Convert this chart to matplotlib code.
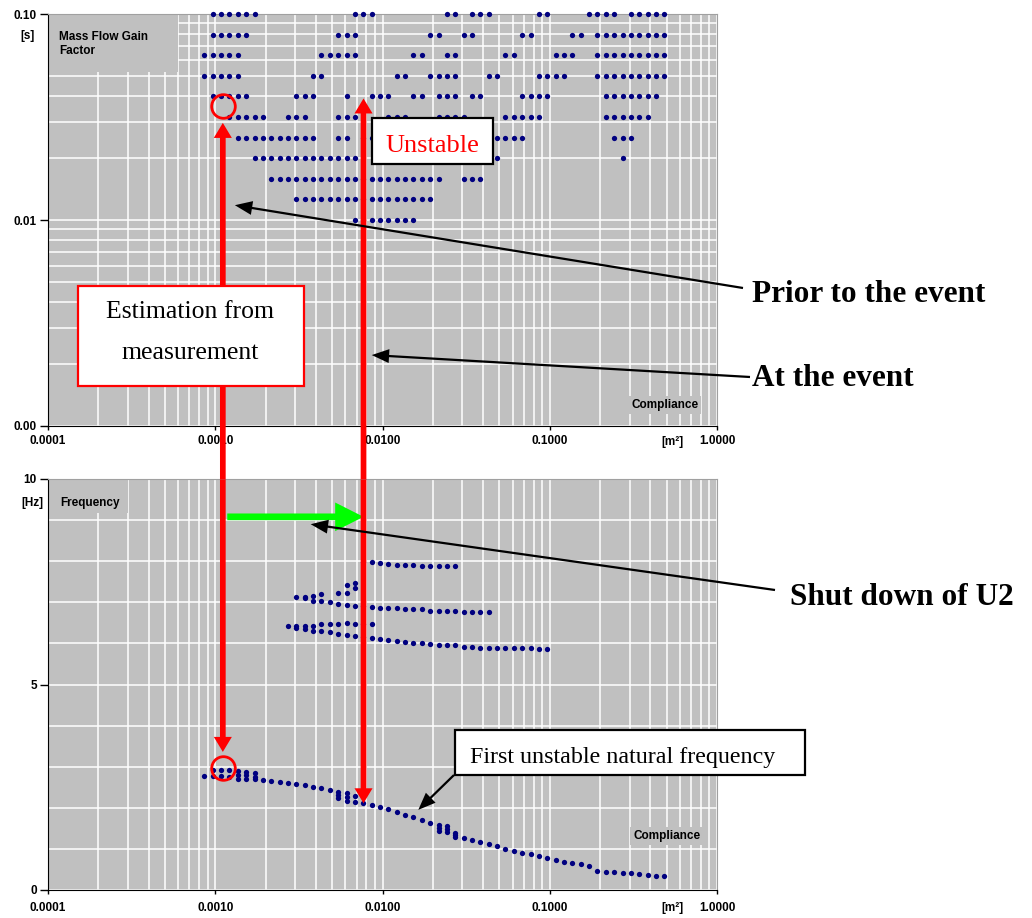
"""Stability map (mass flow gain factor vs compliance) and natural frequency plot."""

import matplotlib

matplotlib.use("Agg")
import matplotlib.pyplot as plt
from matplotlib.patches import Rectangle, ConnectionPatch
from matplotlib.ticker import (FixedLocator, FormatStrFormatter, LogLocator,
                               MultipleLocator, NullFormatter)
from matplotlib.transforms import blended_transform_factory

# ---- data -------------------------------------------------------------------
# compliance sweep [m^2], one value per column of the stability map
compliance = [
    0.000861, 0.000966,
    0.001084, 0.001216, 0.001365, 0.001531, 0.001718, 0.001928, 0.002163, 0.002427, 0.002723, 0.003055,
    0.003428, 0.003846, 0.004315, 0.004842, 0.005433, 0.006095, 0.006839, 0.007674, 0.008610, 0.009661,
    0.01084, 0.01216, 0.01365, 0.01531, 0.01718, 0.01928, 0.02163, 0.02427, 0.02723, 0.03055,
    0.03428, 0.03846, 0.04315, 0.04842, 0.05433, 0.06095, 0.06839, 0.07674, 0.08610, 0.09661,
    0.1084, 0.1216, 0.1365, 0.1531, 0.1718, 0.1928, 0.2163, 0.2427, 0.2723, 0.3055,
    0.3428, 0.3846, 0.4315, 0.4842,
]
# mass flow gain factor [s], one value per row of the map
gain_factor = [0.1000, 0.0794, 0.0631, 0.0501, 0.0398, 0.0316,
               0.0251, 0.0200, 0.0158, 0.0126, 0.0100]
# unstable points per row, as runs of compliance columns (first, last)
unstable_runs = [
    [(1, 6), (18, 20), (29, 30), (32, 34), (40, 41), (46, 49), (51, 55)],
    [(1, 5), (16, 18), (27, 28), (31, 32), (38, 39), (44, 45), (47, 55)],
    [(0, 4), (14, 18), (25, 26), (29, 30), (36, 37), (42, 44), (47, 55)],
    [(0, 4), (13, 14), (23, 24), (27, 30), (34, 35), (40, 43), (47, 55)],
    [(1, 5), (11, 13), (17, 17), (20, 22), (25, 26), (28, 30), (32, 33), (38, 41), (48, 54)],
    [(3, 7), (10, 12), (16, 18), (22, 24), (28, 31), (36, 40), (48, 53)],
    [(4, 13), (16, 17), (19, 20), (35, 38), (49, 51)],
    [(6, 18), (35, 35), (50, 50)],
    [(8, 28), (31, 33)],
    [(11, 27)],
    [(18, 25)],
]

# natural frequencies [Hz] as (compliance column, frequency)
freq_first = [
    (0, 2.77), (1, 2.92), (1, 2.77), (2, 2.92), (2, 2.77), (3, 2.92), (3, 2.74),
    (4, 2.90), (4, 2.81), (4, 2.71), (5, 2.87), (5, 2.79), (5, 2.71),
    (6, 2.85), (6, 2.76), (6, 2.69), (7, 2.68), (8, 2.65), (9, 2.63), (10, 2.61),
    (11, 2.57), (12, 2.55), (13, 2.51), (14, 2.48), (15, 2.44),
    (16, 2.38), (16, 2.30), (16, 2.23), (17, 2.35), (17, 2.26), (17, 2.17),
    (18, 2.28), (18, 2.15), (19, 2.11), (20, 2.07), (21, 2.01), (22, 1.96),
    (23, 1.89), (24, 1.82), (25, 1.78), (26, 1.70), (27, 1.64),
    (28, 1.58), (28, 1.50), (28, 1.44), (29, 1.55), (29, 1.48), (29, 1.42),
    (30, 1.38), (30, 1.33), (30, 1.28), (31, 1.26), (32, 1.22), (33, 1.17),
    (34, 1.12), (35, 1.06), (36, 1.00), (37, 0.96), (38, 0.91), (39, 0.87),
    (40, 0.83), (41, 0.78), (42, 0.73), (43, 0.69), (44, 0.66), (45, 0.63),
    (46, 0.58), (47, 0.47), (48, 0.45), (49, 0.44), (50, 0.42), (51, 0.41),
    (52, 0.40), (53, 0.37), (54, 0.35), (55, 0.33),
]
freq_8hz = [(19, 7.98), (20, 7.97), (21, 7.95), (22, 7.92), (23, 7.91), (24, 7.90),
            (25, 7.90), (26, 7.88), (27, 7.88), (28, 7.88), (29, 7.88), (30, 7.88)]
freq_7hz = [(11, 7.14), (12, 7.13), (12, 7.11), (13, 7.15), (14, 7.19), (16, 7.22),
            (17, 7.42), (17, 7.23), (18, 7.46), (18, 7.36),
            (13, 7.02), (14, 7.02), (15, 7.00), (16, 6.96), (17, 6.94), (18, 6.91),
            (19, 6.90), (20, 6.89), (21, 6.87), (22, 6.86), (23, 6.85), (24, 6.84),
            (25, 6.84), (26, 6.84), (27, 6.80), (28, 6.80), (29, 6.80), (30, 6.80),
            (31, 6.77), (32, 6.77), (33, 6.77), (34, 6.77)]
freq_6hz = [(10, 6.43), (11, 6.43), (12, 6.43), (13, 6.43), (14, 6.47), (15, 6.47),
            (16, 6.47), (17, 6.49), (18, 6.48), (19, 6.48), (20, 6.47),
            (11, 6.37), (12, 6.35), (13, 6.30), (14, 6.30), (15, 6.27), (16, 6.24),
            (17, 6.20), (18, 6.18), (19, 6.15), (20, 6.12), (21, 6.10), (22, 6.08),
            (23, 6.06), (24, 6.04), (25, 6.01), (26, 6.00), (27, 5.99), (28, 5.97),
            (29, 5.96), (30, 5.96), (31, 5.92), (32, 5.92), (33, 5.90), (34, 5.90),
            (35, 5.89), (36, 5.88), (37, 5.88), (38, 5.88), (39, 5.88), (40, 5.86),
            (41, 5.86)]

# operating points marked on the chart
est_compliance = 0.00111   # estimation from measurement
est_gain = 0.0357
est_freq = 2.98
event_compliance = 0.0077  # at the event
# ----------------------------------------------------------------------------

W, H = 1032, 918
PLOT_BG = "#c0c0c0"
DOT = "#000080"
SANS = ["Liberation Sans", "DejaVu Sans"]
SERIF = ["Liberation Serif", "DejaVu Serif"]
plt.rcParams["font.family"] = SANS
plt.rcParams["font.weight"] = "bold"


def fxy(x, y):
    """Pixel position (from top-left) -> figure fraction."""
    return x / W, 1 - y / H


fig = plt.figure(figsize=(W / 100, H / 100), dpi=100)
ax1 = fig.add_axes([48 / W, 1 - 426 / H, 669 / W, 412 / H])
ax2 = fig.add_axes([48 / W, 1 - 890 / H, 669 / W, 411 / H])

for ax in (ax1, ax2):
    ax.set_facecolor(PLOT_BG)
    ax.set_xscale("log")
    ax.set_xlim(1e-4, 1)
    ax.xaxis.set_major_locator(FixedLocator([1e-4, 1e-3, 1e-2, 1e-1, 1]))
    ax.xaxis.set_minor_locator(LogLocator(base=10, subs=range(2, 10), numticks=20))
    ax.xaxis.set_major_formatter(FormatStrFormatter("%.4f"))
    ax.xaxis.set_minor_formatter(NullFormatter())
    ax.grid(which="both", color="white", lw=1.1)
    ax.set_axisbelow(True)
    ax.tick_params(which="minor", length=0)
    ax.tick_params(axis="y", which="major", length=6, width=1, pad=2, labelsize=8.5)
    ax.tick_params(axis="x", which="major", length=3, width=1, labelsize=8.5)
    for s in ("top", "right"):
        ax.spines[s].set_color("#a0a0a0")
    for s in ("left", "bottom"):
        ax.spines[s].set_color("black")
ax1.tick_params(axis="x", pad=3.5)
ax2.tick_params(axis="x", pad=5.5)

# top: stability map
ax1.set_yscale("log")
ax1.set_ylim(0.001, 0.1)
ax1.yaxis.set_major_locator(FixedLocator([0.001, 0.01, 0.1]))
ax1.yaxis.set_minor_locator(LogLocator(base=10, subs=range(2, 10), numticks=20))
ax1.yaxis.set_major_formatter(FormatStrFormatter("%.2f"))
ax1.yaxis.set_minor_formatter(NullFormatter())

mx, my = [], []
for g, runs in zip(gain_factor, unstable_runs):
    for a, b in runs:
        for j in range(a, b + 1):
            mx.append(compliance[j])
            my.append(g)
ax1.plot(mx, my, ls="none", marker="o", ms=3.8, color=DOT, mec="none",
         clip_on=False, zorder=3)

ax1.add_patch(Rectangle((0, 0.859), 0.194, 0.141, transform=ax1.transAxes,
                        fc=PLOT_BG, ec="none", zorder=1.5))
ax1.text(0.017, 0.927, "Mass Flow Gain\nFactor", transform=ax1.transAxes,
         ha="left", va="center", fontsize=8.5, linespacing=1.3, zorder=4)
ax1.text(-0.030, 0.947, "[s]", transform=ax1.transAxes, ha="center", va="center",
         fontsize=8.5)
ax1.text(0.922, 0.052, "Compliance", transform=ax1.transAxes, ha="center", va="center",
         fontsize=8.5, zorder=4,
         bbox=dict(boxstyle="square,pad=0.25", fc=PLOT_BG, ec="none"))
ax1.text(0.933, -0.038, "[m²]", transform=ax1.transAxes, ha="center", va="center",
         fontsize=8.5)

# bottom: natural frequencies
ax2.set_ylim(0, 10)
ax2.yaxis.set_major_locator(FixedLocator([0, 5, 10]))
ax2.yaxis.set_minor_locator(MultipleLocator(1))
ax2.yaxis.set_major_formatter(FormatStrFormatter("%d"))

for branch in (freq_first, freq_8hz, freq_7hz, freq_6hz):
    ax2.plot([compliance[c] for c, _ in branch], [f for _, f in branch],
             ls="none", marker="o", ms=3.8, color=DOT, mec="none", zorder=3)

ax2.add_patch(Rectangle((0, 0.917), 0.12, 0.083, transform=ax2.transAxes,
                        fc=PLOT_BG, ec="none", zorder=1.5))
ax2.text(0.019, 0.942, "Frequency", transform=ax2.transAxes, ha="left", va="center",
         fontsize=8.5, zorder=4)
ax2.text(-0.023, 0.942, "[Hz]", transform=ax2.transAxes, ha="center", va="center",
         fontsize=8.5)
ax2.text(0.925, 0.131, "Compliance", transform=ax2.transAxes, ha="center", va="center",
         fontsize=8.5, zorder=4,
         bbox=dict(boxstyle="square,pad=0.25", fc=PLOT_BG, ec="none"))
ax2.text(0.933, -0.044, "[m²]", transform=ax2.transAxes, ha="center", va="center",
         fontsize=8.5)

# ---- annotations ------------------------------------------------------------
# circles round the estimated operating point
ax1.plot([est_compliance], [est_gain], marker="o", ms=17, mfc="none", mec="red",
         mew=2.0, clip_on=False, zorder=5)
ax2.plot([est_compliance], [est_freq], marker="o", ms=17, mfc="none", mec="red",
         mew=2.0, clip_on=False, zorder=5)

red_style = "simple,head_length=10.8,head_width=13,tail_width=4.1"
gap = blended_transform_factory(ax1.transData, ax1.transAxes)
for xc, top, bottom in [(est_compliance, 0.0296, 3.36),
                        (event_compliance, 0.0389, 2.11)]:
    for xyB, trB in [((xc, top), ax1.transData), ((xc, bottom), ax2.transData)]:
        fig.add_artist(ConnectionPatch(xyA=(xc, -0.13), coordsA=gap, xyB=xyB,
                                       coordsB=trB, arrowstyle=red_style,
                                       mutation_scale=1, fc="red", ec="none",
                                       lw=0, zorder=4))

# green arrow: shut down of U2
fig.add_artist(ConnectionPatch(
    xyA=(0.00118, 9.08), coordsA=ax2.transData,
    xyB=(event_compliance, 9.08), coordsB=ax2.transData,
    arrowstyle="simple,head_length=20.4,head_width=20.6,tail_width=4.8",
    mutation_scale=1, fc="#00ff00", ec="none", lw=0, zorder=3.5))

black_style = "simple,head_length=12.5,head_width=10,tail_width=1.6"
for tail, tip, tr in [((743, 288), (0.00131, 0.0118), ax1.transData),
                      ((750, 377), (0.00862, 0.00221), ax1.transData),
                      ((775, 590), (0.00372, 8.90), ax2.transData),
                      ((454, 775), (0.01637, 1.95), ax2.transData)]:
    fig.add_artist(ConnectionPatch(xyA=fxy(*tail), coordsA=fig.transFigure,
                                   xyB=tip, coordsB=tr, arrowstyle=black_style,
                                   mutation_scale=1, fc="black", ec="none", lw=0,
                                   zorder=4.5))

# text boxes
for (x0, y0, x1, y1), ec in [((372, 118, 493, 164), "black"),
                             ((78, 286, 304, 386), "red"),
                             ((455, 730, 805, 775), "black")]:
    fig.add_artist(Rectangle(fxy(x0, y1), (x1 - x0) / W, (y1 - y0) / H,
                             transform=fig.transFigure, fc="white", ec=ec, lw=1.6,
                             zorder=5))

fig.text(*fxy(432.5, 151.7), "Unstable", ha="center", va="baseline", color="red",
         fontsize=19, family=SERIF, weight="normal", zorder=6)
fig.text(*fxy(190.5, 318.3), "Estimation from", ha="center", va="baseline",
         fontsize=18.5, family=SERIF, weight="normal", zorder=6)
fig.text(*fxy(190.5, 359.3), "measurement", ha="center", va="baseline",
         fontsize=18.5, family=SERIF, weight="normal", zorder=6)
fig.text(*fxy(623, 762.7), "First unstable natural frequency", ha="center",
         va="baseline", fontsize=17.3, family=SERIF, weight="normal", zorder=6)

for (x, y), s in [((752, 301.7), "Prior to the event"),
                  ((752, 386), "At the event"),
                  ((790, 605), "Shut down of U2")]:
    fig.text(*fxy(x, y), s, ha="left", va="baseline", fontsize=22.5, family=SERIF,
             weight="bold", zorder=6)

fig.savefig("out.png", dpi=100)
